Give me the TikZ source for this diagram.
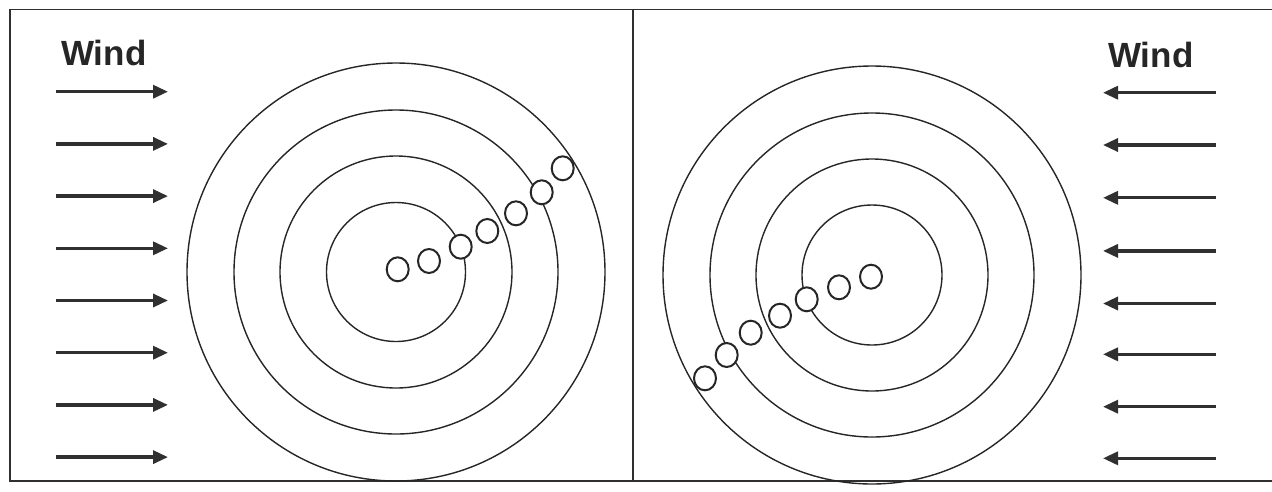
\documentclass[tikz,border=0pt]{standalone}
\usepackage{fontspec}
\setmainfont{Liberation Sans}
\usetikzlibrary{arrows.meta,shapes.geometric}
\definecolor{ink}{HTML}{262626}
\definecolor{arrowink}{HTML}{303030}
\tikzset{
  ring/.style={circle,draw=ink,line width=1.4pt,inner sep=0pt,minimum size=#1},
  bead/.style={ellipse,draw=ink,fill=white,line width=2pt,inner sep=0pt,minimum width=22pt,minimum height=24pt},
  windarrow/.style={draw=arrowink,line width=3.3pt,-{Triangle[length=15pt,width=13pt]}},
  windlabel/.style={anchor=base west,inner sep=0pt,text=ink,font=\bfseries\fontsize{35}{40}\selectfont},
  frame/.style={draw=arrowink,line width=1.4pt}
}
\begin{document}
\begin{tikzpicture}[x=1pt,y=-1pt]
\useasboundingbox (0,0) rectangle (1272,491);
% frame
\coordinate (tl) at (10,9.5);
\coordinate (tr) at (1272,9.5);
\coordinate (bl) at (10,481);
\coordinate (br) at (1272,481);
\coordinate (dt) at (633,9.5);
\coordinate (db) at (633,481);
\draw[frame] (tr) -- (tl) -- (bl) -- (br);
\draw[frame] (dt) -- (db);
% labels
\node[windlabel] (wl) at (61,65) {Wind};
\node[windlabel] (wr) at (1108,67) {Wind};
% left arrows
\foreach \i/\y in {1/91.7,2/143.9,3/196.1,4/248.3,5/300.5,6/352.7,7/404.9,8/457.1}{
  \coordinate (la\i) at (56,\y);
  \coordinate (lb\i) at (168,\y);
  \draw[windarrow] (la\i) -- (lb\i);
}
% right arrows
\foreach \i/\y in {1/92.7,2/145,3/197.8,4/250.9,5/303.5,6/354.3,7/406.7,8/458.3}{
  \coordinate (ra\i) at (1216,\y);
  \coordinate (rb\i) at (1103,\y);
  \draw[windarrow] (ra\i) -- (rb\i);
}
% left target
\foreach \r in {209,162,116,69.5}{
  \node[ring=2*\r pt] (L\r) at (396,272) {};
}
\foreach \i/\x/\y in {1/397.7/269.3,2/429/261,3/460.7/246.7,4/487.3/231,5/516/213.3,6/541.7/192.3,7/562.7/168.3}{
  \node[bead] (lbead\i) at (\x,\y) {};
}
% right target
\foreach \r in {209,162,116,70}{
  \node[ring=2*\r pt] (R\r) at (872,275) {};
}
\foreach \i/\x/\y in {1/871/276.7,2/839/287.3,3/806.7/299.3,4/780/315.7,5/750.7/332.7,6/726.7/355,7/705/378.3}{
  \node[bead] (rbead\i) at (\x,\y) {};
}
\end{tikzpicture}
\end{document}
